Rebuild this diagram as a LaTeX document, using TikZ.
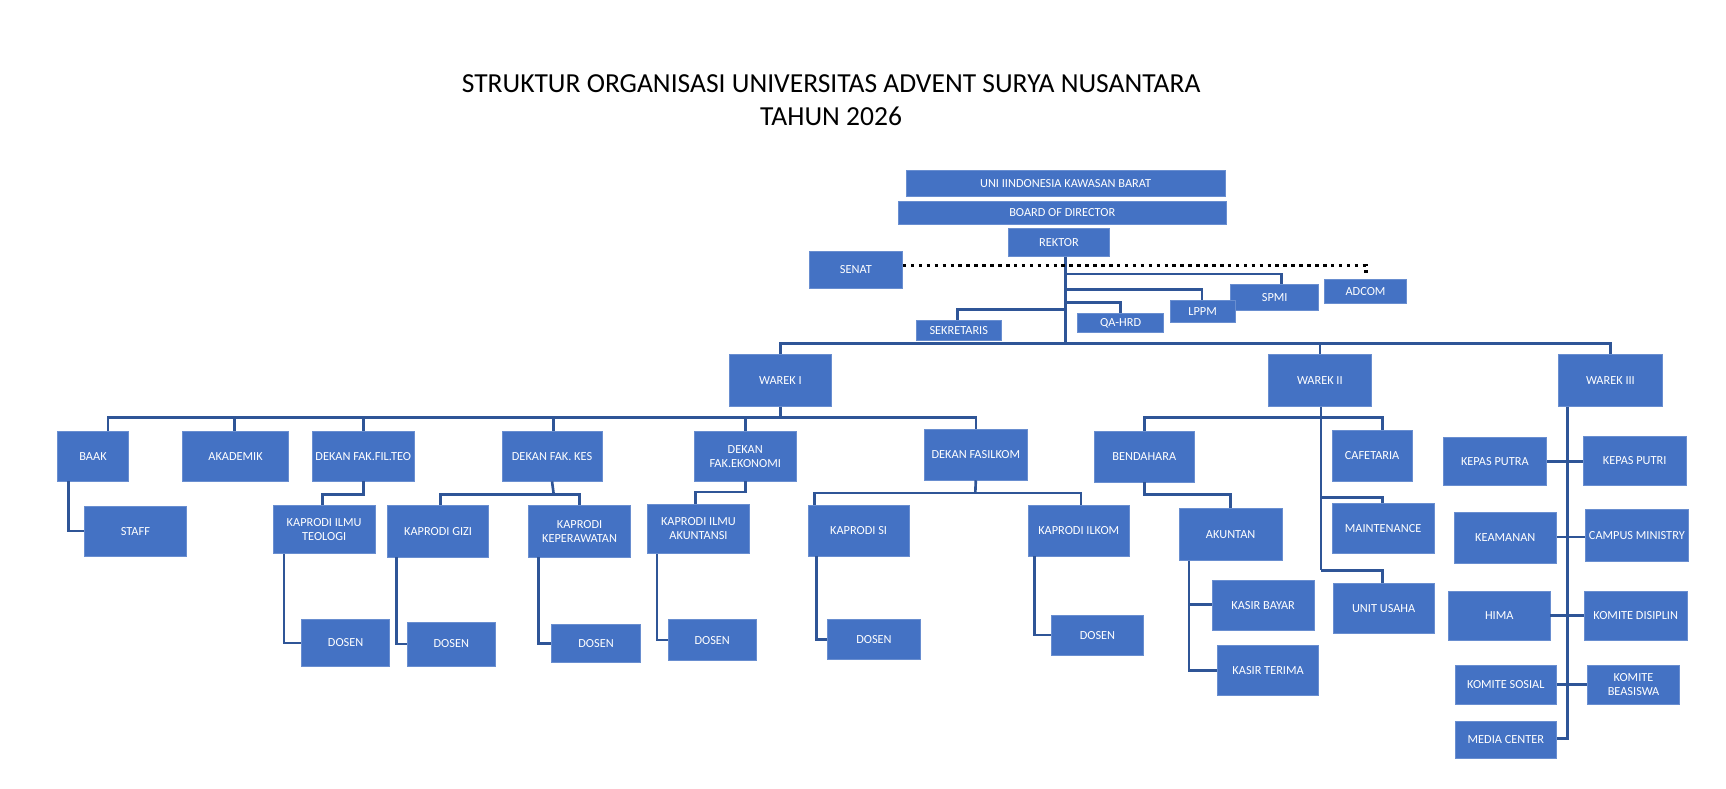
\documentclass[tikz,border=0pt]{standalone}
\usepackage{fontspec}
\setmainfont{Carlito}
\definecolor{boxblue}{HTML}{4472C4}
\definecolor{lineblue}{HTML}{2F5597}
% box from corner (x1,y1) to (x2,y2), in pixels
\newcommand\ubox[6]{%
  \node[box, minimum width={(#4-#2)*0.5pt}, minimum height={(#5-#3)*0.5pt}]
    (#1) at ({(#2+#4)/2},{(#3+#5)/2}) {#6};}
\tikzset{
  box/.style={fill=boxblue, draw=boxblue!80!white, line width=0.3pt, text=white,
    inner sep=0pt, align=center, font=\fontsize{5.6}{6.4}\selectfont},
  ln/.style={draw=lineblue, line width=1.2pt},
}
\begin{document}
\begin{tikzpicture}[x=0.5pt,y=-0.5pt]
  \useasboundingbox (0,0) rectangle (1568,716);

  %--- Judul ---
  \node[font=\fontsize{12.5}{15}\selectfont, align=center] (title) at (755,91)
    {STRUKTUR ORGANISASI UNIVERSITAS ADVENT SURYA NUSANTARA\\TAHUN 2026};

  %--- Pimpinan ---
  \ubox{uni}{823}{155}{1113}{178}{UNI IINDONESIA KAWASAN BARAT}
  \ubox{bod}{816}{183}{1114}{204}{BOARD OF DIRECTOR}
  \ubox{rektor}{916}{207}{1008}{233}{REKTOR}
  \ubox{senat}{735}{228}{820}{262}{SENAT}
  \ubox{spmi}{1118}{258}{1198}{282}{SPMI}
  \ubox{adcom}{1203}{254}{1278}{276}{ADCOM}
  \ubox{lppm}{1063}{273}{1122}{293}{LPPM}
  \ubox{qahrd}{979}{285}{1057}{302}{QA-HRD}
  \ubox{sekr}{832}{291}{910}{309}{SEKRETARIS}
  \ubox{warek1}{663}{322}{755}{369}{WAREK I}
  \ubox{warek2}{1152}{322}{1246}{369}{WAREK II}
  \ubox{warek3}{1416}{322}{1510}{369}{WAREK III}

  %--- Bawah Warek I ---
  \ubox{baak}{52}{392}{117}{437}{BAAK}
  \ubox{akademik}{166}{392}{262}{437}{AKADEMIK}
  \ubox{dfilteo}{284}{392}{376}{437}{DEKAN FAK.FIL.TEO}
  \ubox{dkes}{456}{392}{547}{437}{DEKAN FAK. KES}
  \ubox{deko}{631}{392}{723}{437}{DEKAN\\FAK.EKONOMI}
  \ubox{dfasilkom}{840}{390}{933}{436}{DEKAN FASILKOM}
  \ubox{staff}{77}{460}{169}{505}{STAFF}
  \ubox{kteo}{248}{459}{341}{503}{KAPRODI ILMU\\TEOLOGI}
  \ubox{kgizi}{352}{459}{444}{506}{KAPRODI GIZI}
  \ubox{kkep}{480}{459}{573}{506}{KAPRODI\\KEPERAWATAN}
  \ubox{kakun}{588}{458}{681}{503}{KAPRODI ILMU\\AKUNTANSI}
  \ubox{ksi}{734}{459}{826}{505}{KAPRODI SI}
  \ubox{kilkom}{934}{459}{1026}{505}{KAPRODI ILKOM}
  \ubox{dosA}{274}{563}{354}{605}{DOSEN}
  \ubox{dosB}{370}{565}{450}{605}{DOSEN}
  \ubox{dosC}{501}{567}{582}{602}{DOSEN}
  \ubox{dosD}{607}{563}{687}{600}{DOSEN}
  \ubox{dosE}{752}{563}{836}{599}{DOSEN}
  \ubox{dosF}{955}{559}{1039}{595}{DOSEN}

  %--- Bawah Warek II ---
  \ubox{bendahara}{994}{392}{1085}{438}{BENDAHARA}
  \ubox{cafetaria}{1210}{391}{1283}{437}{CAFETARIA}
  \ubox{akuntan}{1071}{462}{1165}{509}{AKUNTAN}
  \ubox{maint}{1210}{457}{1303}{503}{MAINTENANCE}
  \ubox{kbayar}{1101}{527}{1194}{573}{KASIR BAYAR}
  \ubox{ktrima}{1106}{586}{1198}{632}{KASIR TERIMA}
  \ubox{usaha}{1211}{530}{1303}{575}{UNIT USAHA}

  %--- Bawah Warek III ---
  \ubox{kputra}{1311}{397}{1405}{441}{KEPAS PUTRA}
  \ubox{kputri}{1438}{396}{1532}{441}{KEPAS PUTRI}
  \ubox{keamanan}{1321}{465}{1414}{512}{KEAMANAN}
  \ubox{campus}{1440}{463}{1534}{510}{CAMPUS MINISTRY}
  \ubox{hima}{1316}{537}{1408}{582}{HIMA}
  \ubox{disiplin}{1439}{537}{1533}{582}{KOMITE DISIPLIN}
  \ubox{sosial}{1322}{604}{1414}{640}{KOMITE SOSIAL}
  \ubox{beasiswa}{1442}{604}{1526}{640}{KOMITE\\BEASISWA}
  \ubox{media}{1322}{655}{1414}{689}{MEDIA CENTER}

  %--- Garis pimpinan ---
  \coordinate (wbus) at (968,312);
  \draw[ln] (rektor.south -| wbus) -- (wbus);
  \draw[black, line width=1.6pt, dotted] (senat.east |- 0,241) -- (1241,241) -- (1241,250);
  \draw[ln] (968,249) -| (spmi.north -| 1164,0);
  \draw[ln] (968,263) -| (lppm.north -| 1092,0);
  \draw[ln] (968,275) -| (qahrd.north -| 1018,0);
  \draw[ln] (968,281) -| (sekr.north -| 870,0);
  \draw[ln] (warek1.north) |- (wbus) -| (warek3.north);
  \draw[ln] (wbus) -| (warek2.north);

  %--- Garis Warek I ---
  \coordinate (bus1) at (709,379);
  \draw[ln] (warek1.south) -- (bus1);
  \draw[ln] (baak.north -| 98,0) |- (bus1) -| (dfasilkom.north);
  \foreach \n/\x in {akademik/213, dfilteo/330, dkes/503, deko/677}
    \draw[ln] (bus1 -| \x,0) -- (\n.north -| \x,0);
  \draw[ln] (baak.south -| 62,0) |- (staff.west);
  \draw[ln] (dfilteo.south -| 330,0) |- (293,449) -- (kteo.north -| 293,0);
  \draw[ln] (dkes.south) -- (503,449);
  \draw[ln] (kgizi.north -| 400,0) |- (503,449) -| (kkep.north);
  \draw[ln] (deko.south) |- (632,447) -- (kakun.north -| 632,0);
  \draw[ln] (dfasilkom.south) -- (886,448);
  \draw[ln] (ksi.north -| 740,0) |- (886,448) -| (kilkom.north -| 982,0);
  \draw[ln] (kteo.south -| 258,0) |- (dosA.west);
  \draw[ln] (kgizi.south -| 360,0) |- (dosB.west);
  \draw[ln] (kkep.south -| 489,0) |- (dosC.west);
  \draw[ln] (kakun.south -| 597,0) |- (dosD.west);
  \draw[ln] (ksi.south -| 742,0) |- (dosE.west);
  \draw[ln] (kilkom.south -| 940,0) |- (dosF.west);

  %--- Garis Warek II ---
  \draw[ln] (warek2.south -| 1200,0) -- (1200,518);
  \draw[ln] (bendahara.north -| 1040,0) |- (1200,379) -| (cafetaria.north -| 1256,0);
  \draw[ln] (1200,452) -| (maint.north -| 1256,0);
  \draw[ln] (1200,518) -| (usaha.north -| 1256,0);
  \draw[ln] (bendahara.south -| 1040,0) |- (1118,449) -- (akuntan.north -| 1118,0);
  \draw[ln] (akuntan.south -| 1080,0) |- (ktrima.west);
  \draw[ln] (1080,549) -- (kbayar.west |- 0,549);

  %--- Garis Warek III ---
  \draw[ln] (warek3.south -| 1424,0) |- (media.east |- 0,671);
  \draw[ln] (kputra.east |- 0,419) -- (kputri.west |- 0,419);
  \draw[ln] (keamanan.east |- 0,488) -- (campus.west |- 0,488);
  \draw[ln] (hima.east |- 0,559) -- (disiplin.west |- 0,559);
  \draw[ln] (sosial.east |- 0,622) -- (beasiswa.west |- 0,622);
\end{tikzpicture}
\end{document}
